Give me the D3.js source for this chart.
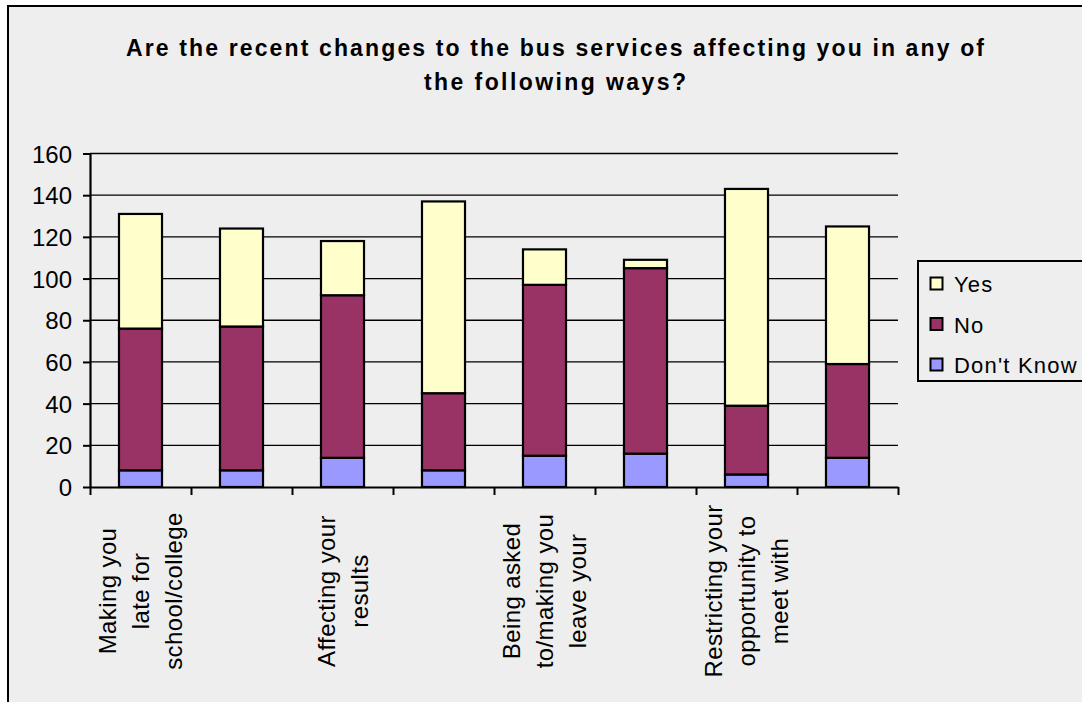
<!DOCTYPE html>
<html>
<head>
<meta charset="utf-8">
<script src="https://cdn.jsdelivr.net/npm/d3@7"></script>
<style>
  html, body { margin: 0; padding: 0; background: #ffffff; }
  svg { display: block; font-family: "Liberation Sans", Arial, sans-serif; }
</style>
</head>
<body>
<svg id="chart" width="1082" height="702"></svg>
<script>
// Survey responses per statement, stacked Don't Know / No / Yes
const categories = [
  "Making you late for school/college",
  "Making you miss lessons",
  "Affecting your results",
  "Limiting your choice of course",
  "Being asked to/making you leave your",
  "Making it harder to get to work",
  "Restricting your opportunity to meet with",
  "Costing you more to travel"
];
// Wrapped axis labels; only every other category carries a label
const tickLabels = [
  ["Making you", "late for", "school/college"],
  [],
  ["Affecting your", "results"],
  [],
  ["Being asked", "to/making you", "leave your"],
  [],
  ["Restricting your", "opportunity to", "meet with"],
  []
];
const seriesNames = ["Yes", "No", "Don't Know"];
const yesValues = [55, 47, 26, 92, 17, 4, 104, 66];
const noValues = [68, 69, 78, 37, 82, 89, 33, 45];
const dontKnowValues = [8, 8, 14, 8, 15, 16, 6, 14];
const yTicks = [0, 20, 40, 60, 80, 100, 120, 140, 160];
const titleLines = [
  "Are the recent changes to the bus services affecting you in any of",
  "the following ways?"
];

const colors = { "Yes": "#ffffcc", "No": "#993366", "Don't Know": "#9999ff" };

const svg = d3.select("#chart");

// chart frame
svg.append("rect")
  .attr("x", 8).attr("y", 6)
  .attr("width", 1090).attr("height", 710)
  .attr("fill", "#eeeeee")
  .attr("stroke", "#000").attr("stroke-width", 2);

// title
const titleW = [858, 262];
svg.append("g").selectAll("text")
  .data(titleLines)
  .join("text")
  .attr("x", 555)
  .attr("y", (d, i) => 55.5 + i * 34)
  .attr("text-anchor", "middle")
  .attr("font-size", 23)
  .attr("font-weight", "bold")
  .attr("textLength", (d, i) => titleW[i])
  .attr("lengthAdjust", "spacing")
  .attr("fill", "#000")
  .text(d => d);

const plot = { left: 90, right: 898, top: 153.5, bottom: 487 };

const x = d3.scaleBand()
  .domain(d3.range(categories.length))
  .range([plot.left, plot.right])
  .paddingInner(0.574)
  .paddingOuter(0.287);

const y = d3.scaleLinear()
  .domain([0, 160])
  .range([plot.bottom, plot.top]);

// gridlines
svg.append("g").selectAll("line")
  .data(yTicks.filter(t => t > 0))
  .join("line")
  .attr("x1", plot.left).attr("x2", plot.right)
  .attr("y1", d => y(d)).attr("y2", d => y(d))
  .attr("stroke", "#000").attr("stroke-width", 1.3);

// stacked bars
const rows = categories.map((c, i) => ({
  idx: i,
  "Don't Know": dontKnowValues[i],
  "No": noValues[i],
  "Yes": yesValues[i]
}));
const stack = d3.stack().keys(["Don't Know", "No", "Yes"]);
const layers = stack(rows);

svg.append("g").selectAll("g")
  .data(layers)
  .join("g")
  .attr("fill", d => colors[d.key])
  .selectAll("rect")
  .data(d => d)
  .join("rect")
  .attr("x", d => x(d.data.idx))
  .attr("width", x.bandwidth())
  .attr("y", d => y(d[1]))
  .attr("height", d => y(d[0]) - y(d[1]))
  .attr("stroke", "#000")
  .attr("stroke-width", 2.2);

// y axis
const yAxis = svg.append("g")
  .attr("transform", `translate(${plot.left},0)`)
  .call(d3.axisLeft(y).tickValues(yTicks).tickSize(7).tickSizeOuter(0).tickPadding(11));
yAxis.select(".domain").attr("stroke", "#000").attr("stroke-width", 2.2);
yAxis.selectAll(".tick line").attr("stroke", "#000").attr("stroke-width", 2);
yAxis.selectAll(".tick text")
  .attr("font-size", 24)
  .attr("font-family", "Liberation Sans, Arial, sans-serif")
  .attr("fill", "#000")
  .attr("dy", "0.36em");

// x axis with ticks at category boundaries
const xb = d3.scaleLinear().domain([0, categories.length]).range([plot.left, plot.right]);
const xAxis = svg.append("g")
  .attr("transform", `translate(0,${plot.bottom})`)
  .call(d3.axisBottom(xb).ticks(categories.length).tickSize(8).tickSizeOuter(0).tickFormat(""));
xAxis.select(".domain").attr("stroke", "#000").attr("stroke-width", 2.2);
xAxis.selectAll(".tick line").attr("stroke", "#000").attr("stroke-width", 2);

// rotated category labels
const lineGap = 33;
const labelG = svg.append("g").selectAll("g")
  .data(tickLabels.map((lines, i) => ({ lines, i })).filter(d => d.lines.length))
  .join("g")
  .attr("transform", d => `translate(${x(d.i) + x.bandwidth() / 2},591) rotate(-90)`);
labelG.selectAll("text")
  .data(d => d.lines.map((t, k) => ({ t, k, n: d.lines.length })))
  .join("text")
  .attr("x", 0)
  .attr("y", d => (d.k - (d.n - 1) / 2) * lineGap + 8.5)
  .attr("text-anchor", "middle")
  .attr("font-size", 24)
  .attr("letter-spacing", 0.4)
  .attr("fill", "#000")
  .text(d => d.t);

// legend
const legend = svg.append("g");
legend.append("rect")
  .attr("x", 918).attr("y", 261)
  .attr("width", 200).attr("height", 120)
  .attr("fill", "#eeeeee")
  .attr("stroke", "#000").attr("stroke-width", 2);
const items = legend.selectAll("g.item")
  .data(seriesNames)
  .join("g")
  .attr("class", "item")
  .attr("transform", (d, i) => `translate(0,${i * 40.5})`);
items.append("rect")
  .attr("x", 930.5).attr("y", 277.5)
  .attr("width", 12).attr("height", 12)
  .attr("fill", d => colors[d])
  .attr("stroke", "#000").attr("stroke-width", 2);
items.append("text")
  .attr("x", 954).attr("y", 292)
  .attr("font-size", 22)
  .attr("letter-spacing", 1.2)
  .attr("fill", "#000")
  .text(d => d);
</script>
</body>
</html>
